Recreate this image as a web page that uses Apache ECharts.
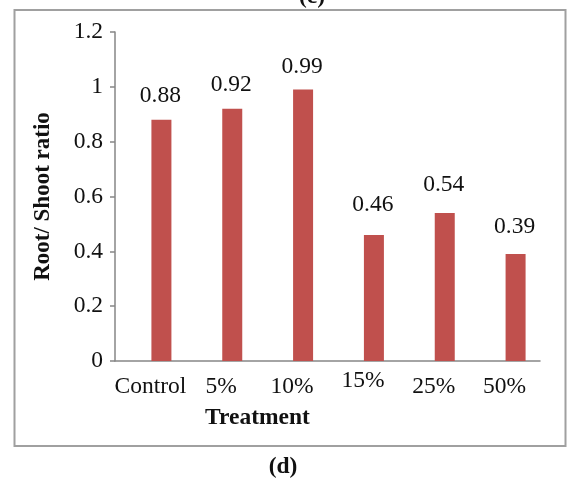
<!DOCTYPE html>
<html>
<head>
<meta charset="utf-8">
<script src="https://cdn.jsdelivr.net/npm/echarts@6/dist/echarts.min.js"></script>
<style>
  html, body { margin: 0; padding: 0; background: #fff; }
  #chart { width: 568px; height: 479px; }
</style>
</head>
<body>
<div id="chart"></div>
<script>
// Root/shoot ratio per treatment
const categories = ['Control', '5%', '10%', '15%', '25%', '50%'];
const ratios = [0.88, 0.92, 0.99, 0.46, 0.54, 0.39];
const yTicks = [0, 0.2, 0.4, 0.6, 0.8, 1, 1.2];

// Layout tweaks: value-label gap above each bar (px)
const labelGap = [12, 12, 11, 18, 16, 15];

const SERIF = '"Liberation Serif", "Times New Roman", serif';
const FONT_SIZE = 23.5;
const BAR_COLOR = '#C0504D';
const AXIS_COLOR = '#868686';
const BAR_WIDTH = 20;
const BAR_SHIFT = 11; // bars sit slightly right of the category centres

const chart = echarts.init(document.getElementById('chart'), null, { renderer: 'canvas' });

chart.setOption({
  backgroundColor: '#fff',
  animation: false,
  grid: { left: 115, right: 28, top: 32, bottom: 118, containLabel: false },
  xAxis: {
    type: 'category',
    data: categories.map(c => c === '15%' ? { value: c, textStyle: { lineHeight: 11 } } : c),
    boundaryGap: true,
    axisLine: { show: true, lineStyle: { color: AXIS_COLOR, width: 1.5 } },
    axisTick: { show: false },
    axisLabel: { color: '#111', fontFamily: SERIF, fontSize: FONT_SIZE, margin: 14, interval: 0 },
    name: 'Treatment',
    nameLocation: 'middle',
    nameGap: 45,
    nameTextStyle: { color: '#111', fontFamily: SERIF, fontSize: FONT_SIZE, fontWeight: 'bold', padding: [0, 140, 0, 0] }
  },
  yAxis: {
    type: 'value',
    min: 0,
    max: yTicks[yTicks.length - 1],
    interval: 0.2,
    axisLine: { show: true, lineStyle: { color: AXIS_COLOR, width: 1.5 } },
    axisTick: { show: true, length: 5, lineStyle: { color: AXIS_COLOR, width: 1.5 } },
    splitLine: { show: false },
    axisLabel: {
      color: '#111', fontFamily: SERIF, fontSize: FONT_SIZE, margin: 12,
      formatter: v => String(+v.toFixed(1))
    },
    name: 'Root/ Shoot ratio',
    nameLocation: 'middle',
    nameRotate: 90,
    nameGap: 60,
    nameTextStyle: { color: '#111', fontFamily: SERIF, fontSize: 23, fontWeight: 'bold' }
  },
  series: [{
    type: 'custom',
    data: ratios.map((v, i) => [i, v]),
    encode: { x: 0, y: 1 },
    renderItem: function (params, api) {
      const i = api.value(0);
      const v = api.value(1);
      const top = api.coord([i, v]);
      const base = api.coord([i, 0]);
      return {
        type: 'rect',
        shape: { x: top[0] - BAR_WIDTH / 2 + BAR_SHIFT, y: top[1], width: BAR_WIDTH, height: base[1] - top[1] },
        style: { fill: BAR_COLOR },
        textContent: {
          style: { text: ratios[i].toFixed(2), fill: '#111', font: FONT_SIZE + 'px ' + SERIF }
        },
        textConfig: { position: 'top', distance: labelGap[i], offset: [-1, 0] }
      };
    }
  }],
  graphic: [
    {
      type: 'rect',
      shape: { x: 14.5, y: 10, width: 551, height: 436 },
      style: { fill: 'none', stroke: '#a0a0a0', lineWidth: 2 },
      silent: true
    },
    {
      type: 'text',
      x: 312, y: 9,
      style: { text: '(c)', font: 'bold ' + FONT_SIZE + 'px ' + SERIF, fill: '#111', align: 'center', verticalAlign: 'bottom' }
    },
    {
      type: 'text',
      x: 283, y: 467,
      style: { text: '(d)', font: 'bold ' + FONT_SIZE + 'px ' + SERIF, fill: '#111', align: 'center', verticalAlign: 'middle' }
    }
  ]
});
</script>
</body>
</html>
